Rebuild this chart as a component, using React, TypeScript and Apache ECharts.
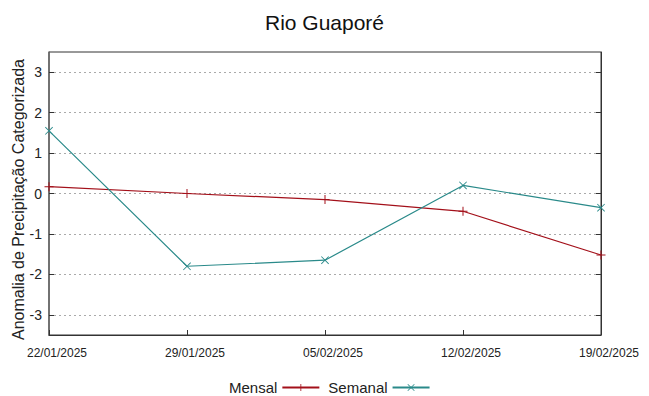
import React, { useEffect, useRef } from "react";
import * as echarts from "echarts";

const categories = ["22/01/2025", "29/01/2025", "05/02/2025", "12/02/2025", "19/02/2025"];
const mensal = [0.17, 0.0, -0.15, -0.44, -1.52];
const semanal = [1.55, -1.8, -1.65, 0.2, -0.35];
const yTicks = [-3, -2, -1, 0, 1, 2, 3];

const FONT = "'Liberation Sans', Arial, sans-serif";
const PLUS = "path://M4,0h1v9h-1z M0,4h9v1h-9z";
const CROSS = "path://M0,0.7L0.7,0L9,8.3L8.3,9Z M8.3,0L9,0.7L0.7,9L0,8.3Z";
const RED = "#a3101a";
const TEAL = "#2a8a8a";

export default function App() {
  const ref = useRef<HTMLDivElement>(null);
  useEffect(() => {
    if (!ref.current) return;
    const chart = echarts.init(ref.current, undefined, { renderer: "svg" });
    chart.setOption({
      animation: false,
      backgroundColor: "#ffffff",
      textStyle: { fontFamily: FONT },
      title: {
        text: "Rio Guaporé",
        left: "center",
        top: 7,
        textStyle: { fontFamily: FONT, fontSize: 21, fontWeight: "normal", color: "#111" },
      },
      grid: {
        left: 49,
        right: 48,
        top: 52,
        bottom: 61,
        containLabel: false,
        outerBoundsMode: "none",
        show: true,
        borderColor: "#333",
        borderWidth: 1,
        backgroundColor: "transparent",
      },
      legend: {
        left: 224,
        top: 375,
        align: "right",
        itemWidth: 37,
        itemHeight: 9,
        itemGap: 8,
        textStyle: { fontFamily: FONT, fontSize: 15, color: "#222" },
        data: ["Mensal", "Semanal"],
      },
      xAxis: {
        type: "category",
        data: categories,
        boundaryGap: false,
        axisLine: { show: true, onZero: false, lineStyle: { color: "#333", width: 1 } },
        axisTick: { show: true, inside: true, length: 5, lineStyle: { color: "#333" } },
        axisLabel: {
          fontFamily: FONT,
          fontSize: 12,
          color: "#222",
          margin: 12,
          interval: 0,
          padding: [0, 0, 0, 16],
        },
        splitLine: { show: false },
      },
      yAxis: [
        {
          type: "value",
          min: -3.5,
          max: 3.5,
          name: "Anomalia de Precipitação Categorizada",
          nameLocation: "middle",
          nameGap: 23,
          nameMoveOverlap: false,
          nameRotate: 90,
          nameTextStyle: { fontFamily: FONT, fontSize: 16, color: "#222", padding: [0, 12, 0, 0] },
          axisLine: { show: true, lineStyle: { color: "#666", width: 1.5 } },
          axisTick: { show: true, inside: true, length: 5, lineStyle: { color: "#333" }, customValues: yTicks },
          axisLabel: { fontFamily: FONT, fontSize: 14, color: "#222", margin: 7, customValues: yTicks },
          splitLine: { show: true, lineStyle: { color: "#aaa", type: [2, 3], width: 1 } },
        },
        {
          type: "value",
          min: -3.5,
          max: 3.5,
          position: "right",
          axisLine: { show: true, lineStyle: { color: "#333", width: 1 } },
          axisTick: { show: true, inside: true, length: 5, lineStyle: { color: "#333" }, customValues: yTicks },
          axisLabel: { show: false, customValues: yTicks },
          splitLine: { show: false },
        },
      ],
      series: [
        {
          name: "Mensal",
          type: "line",
          data: mensal,
          symbol: PLUS,
          symbolSize: 9,
          showSymbol: true,
          itemStyle: { color: RED },
          lineStyle: { color: RED, width: 1.2 },
          z: 3,
        },
        {
          name: "Semanal",
          type: "line",
          data: semanal,
          symbol: CROSS,
          symbolSize: 8,
          showSymbol: true,
          itemStyle: { color: TEAL },
          lineStyle: { color: TEAL, width: 1.2 },
          z: 4,
        },
      ],
    });
    return () => chart.dispose();
  }, []);
  return <div ref={ref} style={{ width: 649, height: 396, position: "absolute", left: 0, top: 0 }} />;
}
